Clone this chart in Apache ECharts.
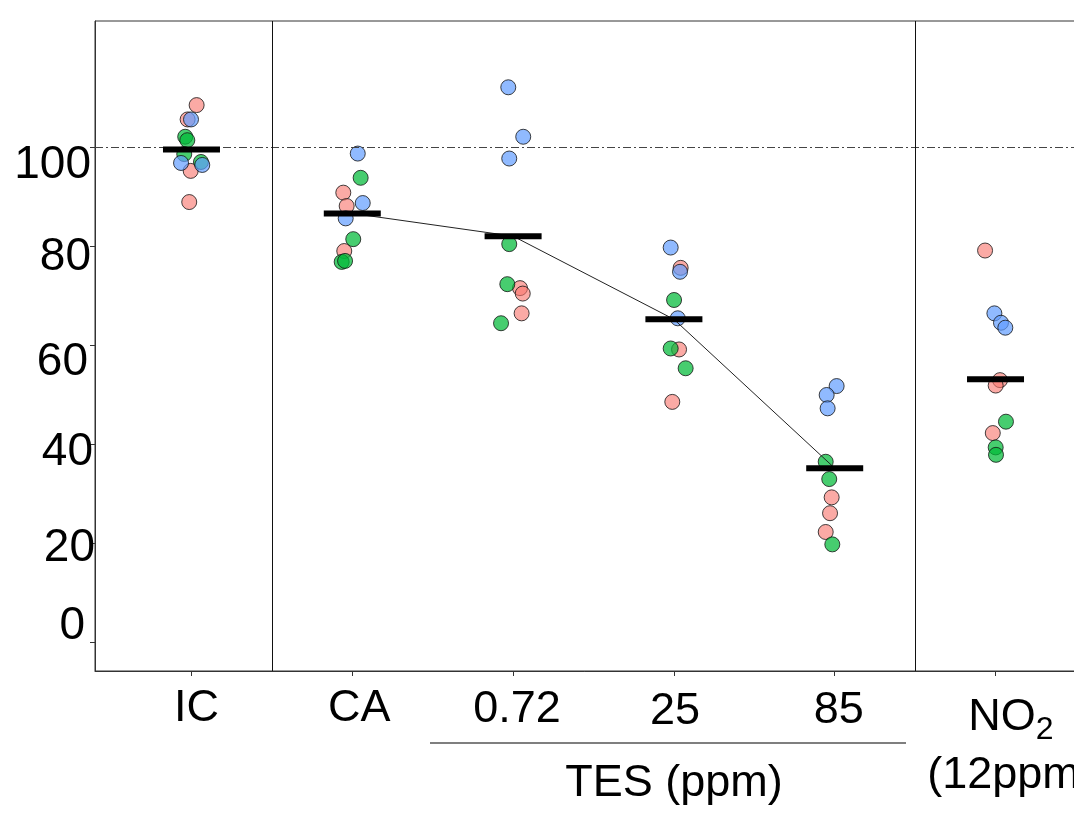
<!DOCTYPE html>
<html>
<head>
<meta charset="utf-8">
<script src="https://cdn.jsdelivr.net/npm/echarts@6/dist/echarts.min.js"></script>
<style>
html,body{margin:0;padding:0;background:#fff;}
#chart{width:1074px;height:824px;}
</style>
</head>
<body>
<div id="chart"></div>
<script>
// ---- data ----
const categories = ['IC', 'CA', '0.72', '25', '85', 'NO2'];
const categoryNote = '(12ppm)';
const groupPositions = [1, 2, 3, 4, 5, 6];
const yTicks = [0, 20, 40, 60, 80, 100];
const referenceLevel = 100;
const separators = [1.5, 5.5];
const groupTitle = 'TES (ppm)';

// [x (group + jitter), value]
const pinkPoints = [
  [1.032,108.5],[0.976,105.6],[0.995,95.2],[0.986,88.9],
  [1.944,90.8],[1.965,88.1],[1.950,79.0],
  [3.043,71.5],[3.060,70.4],[3.053,66.4],
  [4.042,75.6],[4.032,59.1],[3.990,48.5],
  [4.981,29.2],[4.971,26.0],[4.944,22.2],
  [5.935,79.1],[6.028,52.9],[6.001,51.8],[5.983,42.2]
];
const greenPoints = [
  [0.961,102.1],[0.974,101.4],[0.955,98.6],[1.059,97.0],
  [2.052,93.8],[2.006,81.4],[1.934,76.8],[1.955,77.0],
  [2.976,80.4],[2.964,72.3],[2.925,64.4],
  [4.001,69.1],[3.980,59.3],[4.073,55.3],
  [4.944,36.4],[4.966,32.9],[4.985,19.7],
  [6.065,44.5],[6.001,39.3],[6.003,37.8]
];
const bluePoints = [
  [0.997,105.6],[0.935,96.8],[1.067,96.4],
  [2.034,98.7],[2.065,88.7],[1.959,85.6],
  [2.970,112.1],[3.063,102.1],[2.976,97.7],
  [3.980,79.7],[4.038,74.8],[4.024,65.4],
  [5.012,51.7],[4.950,49.9],[4.956,47.2],
  [5.993,66.4],[6.034,64.5],[6.061,63.5]
];
const meanValues = [99.5, 86.6, 82.0, 65.2, 35.1, 53.1];
const trendGroups = [1, 2, 3, 4]; // CA, 0.72, 25, 85

// ---- styling helpers (positions/styles, not data) ----
const FONT = '"Liberation Sans", Arial, sans-serif';
const yLabelShift = { // [down px, left px]
  0: [-16, 10], 20: [5, 0], 40: [8, 2], 60: [17, 7], 80: [11, 4], 100: [18, 4]
};
const yRich = {};
yTicks.forEach(v => {
  const s = yLabelShift[v];
  yRich['y' + v] = {
    fontSize: 46, fontFamily: FONT, color: '#000', lineHeight: 46,
    padding: [s[0] > 0 ? 2 * s[0] : 0, s[1], s[0] < 0 ? -2 * s[0] : 0, 0]
  };
});
const xShift = [[0, 10], [0, 14], [2, 8], [5, 2], [3, 8], [4, 31]]; // [down, right*2]
const xRich = {};
categories.forEach((c, i) => {
  xRich['x' + i] = {
    fontSize: 45, fontFamily: FONT, color: '#000',
    lineHeight: i === 5 ? 60 : 46,
    padding: [xShift[i][0], 0, 0, xShift[i][1]]
  };
});
xRich.sub = { fontSize: 32, fontFamily: FONT, color: '#000', lineHeight: 32, verticalAlign: 'bottom', padding: [0, 0, 0, 0] };
xRich.note = { fontSize: 45, fontFamily: FONT, color: '#000', lineHeight: 60, padding: [0, 0, 0, 31] };

function pointSeries(name, data, fill) {
  return {
    name, type: 'scatter', data, symbol: 'circle', symbolSize: 15, z: 3,
    itemStyle: { color: fill, borderColor: 'rgba(20,20,20,0.8)', borderWidth: 1, opacity: 1 },
    emphasis: { disabled: true }
  };
}

const chart = echarts.init(document.getElementById('chart'), null, { renderer: 'canvas' });
chart.setOption({
  animation: false,
  backgroundColor: '#fff',
  grid: {
    left: 95, top: 21, right: -18, bottom: 153,
    show: true, borderColor: '#333', borderWidth: 1,
    outerBoundsMode: 'none', containLabel: false
  },
  xAxis: {
    type: 'value', min: 0.4, max: 6.6,
    axisLine: { show: true, onZero: false, lineStyle: { color: '#333', width: 1 } },
    axisTick: { show: true, length: 5, lineStyle: { color: '#333' }, customValues: groupPositions },
    splitLine: { show: false },
    axisLabel: {
      customValues: groupPositions, margin: 15, verticalAlign: 'top',
      formatter: v => {
        const i = groupPositions.indexOf(Math.round(v));
        if (i < 0) return '';
        if (i === 5) return '{x5|NO}{sub|2}\n{note|' + categoryNote + '}';
        return '{x' + i + '|' + categories[i] + '}';
      },
      rich: xRich
    }
  },
  yAxis: {
    type: 'value', min: -5.9, max: 125.5,
    axisLine: { show: true, onZero: false, lineStyle: { color: '#333', width: 1 } },
    axisTick: { show: true, length: 5, lineStyle: { color: '#333' }, customValues: yTicks },
    splitLine: { show: false },
    axisLabel: {
      customValues: yTicks, margin: 0, align: 'right', verticalAlign: 'middle',
      formatter: v => '{y' + v + '|' + v + '}',
      rich: yRich
    }
  },
  series: [
    {
      type: 'line', data: [], silent: true,
      markLine: {
        silent: true, symbol: 'none', label: { show: false },
        data: [
          { yAxis: referenceLevel, lineStyle: { type: [8, 3, 2, 3], color: '#444', width: 1 } },
          ...separators.map(s => ({ xAxis: s, lineStyle: { type: 'solid', color: '#111', width: 1 } }))
        ]
      }
    },
    pointSeries('pink', pinkPoints, 'rgba(248,118,109,0.62)'),
    pointSeries('green', greenPoints, 'rgba(0,186,56,0.72)'),
    pointSeries('blue', bluePoints, 'rgba(97,156,255,0.7)'),
    {
      type: 'line', z: 4, symbol: 'none', silent: true,
      data: trendGroups.map(i => [groupPositions[i], meanValues[i]]),
      lineStyle: { color: '#222', width: 1 }
    },
    {
      type: 'scatter', z: 5, symbol: 'rect', symbolSize: [57, 6], silent: true,
      data: groupPositions.map((p, i) => [p, meanValues[i]]),
      itemStyle: { color: '#000', opacity: 1 }
    }
  ],
  graphic: [
    { type: 'line', shape: { x1: 430, y1: 743, x2: 906, y2: 743 }, style: { stroke: '#000', lineWidth: 1.2 } },
    { type: 'text', x: 674, y: 784, style: { text: groupTitle, font: '45px ' + FONT, fill: '#000', textAlign: 'center', textVerticalAlign: 'middle' } }
  ]
});
</script>
</body>
</html>
